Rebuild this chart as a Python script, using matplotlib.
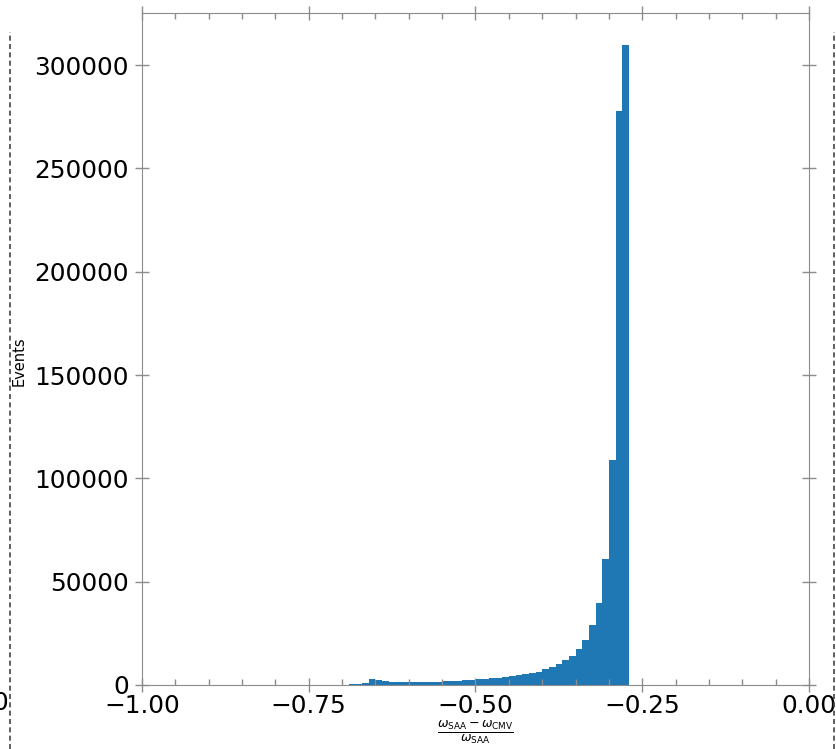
import numpy as np
import matplotlib
matplotlib.use("Agg")
import matplotlib.pyplot as plt
from matplotlib.lines import Line2D

# bin counts, 0.01 wide bins starting at -0.72 (everything else is empty)
first_edge = -0.72
counts = [50, 100, 200, 300, 500, 800, 2700, 2600, 1900, 1600,
          1450, 1350, 1300, 1300, 1300, 1400, 1500, 1700, 1900, 2100,
          2300, 2500, 2700, 3000, 3200, 3500, 3800, 4200, 4600, 5100,
          5600, 6500, 7600, 8500, 10200, 12100, 14200, 17400, 21800, 28900,
          39800, 61000, 109000, 278000, 310000]
x_ticks = [-1.00, -0.75, -0.50, -0.25, 0.00]
y_ticks = [0, 50000, 100000, 150000, 200000, 250000, 300000]

edges = np.round(first_edge + 0.01 * np.arange(len(counts) + 1), 2)
centers = 0.5 * (edges[:-1] + edges[1:])

fig = plt.figure(figsize=(8.37, 7.49), dpi=100)
ax = fig.add_axes([142 / 837, 1 - 685 / 749, 667 / 837, 672.5 / 749])

ax.hist(centers, bins=edges, weights=counts, color="#1f77b4")
ax.set_xlim(-1, 0)
ax.set_ylim(0, 1.05 * max(counts))

ax.set_xticks(x_ticks)
ax.set_yticks(y_ticks)
ax.set_xticks(np.arange(-1, 0.001, 0.05), minor=True)

grey = "#8c8c8c"
for s in ax.spines.values():
  s.set_color(grey)
ax.tick_params(which="major", direction="inout", length=10, width=1,
               color=grey, labelsize=17.8, top=True, right=True)
ax.tick_params(axis="x", which="major", pad=1.5)
ax.tick_params(axis="y", which="major", pad=4.5)
ax.tick_params(which="minor", direction="in", length=4.5, width=1,
               color=grey, top=True, bottom=True)
ax.tick_params(axis="y", which="minor", left=False, right=False)

ax.set_xlabel(r"$\frac{\omega_{\rm SAA}-\omega_{\rm CMV}}{\omega_{\rm SAA}}$",
              fontsize=13, labelpad=0)
fig.text(19 / 837, 1 - 361 / 749, "Events", rotation=90, fontsize=10.5,
         ha="center", va="center")

# dashed frame from the neighbouring panel
for xf in (10 / 837, 834 / 837):
  fig.add_artist(Line2D([xf, xf], [0, 1 - 32 / 749], transform=fig.transFigure,
                        color="#444444", lw=1.2, ls=(0, (3, 2))))
fig.text(8.5 / 837, 1 - 703 / 749, "0", fontsize=17.8, ha="right",
         va="center")

fig.savefig("out.png", dpi=100)
